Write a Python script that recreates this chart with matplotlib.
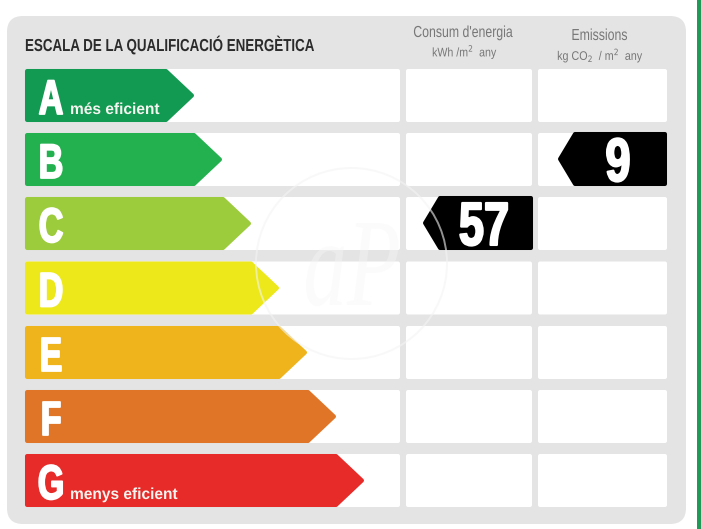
import matplotlib
matplotlib.use('Agg')
import matplotlib.pyplot as plt
from matplotlib.patches import FancyBboxPatch, Polygon, Circle
from matplotlib.patheffects import AbstractPathEffect
from matplotlib.transforms import Affine2D

# Energy rating scale, one row per grade
grades = ['A', 'B', 'C', 'D', 'E', 'F', 'G']
row_tops = [69, 133, 197, 261.5, 326, 390, 454]
arrow_ends = [194, 222, 251, 279, 307, 336, 364]
colors = ['#129a52', '#23b14f', '#9ccb3b', '#ece81a', '#efb41c', '#e07527', '#e62b29']
grade_notes = {'A': 'més eficient', 'G': 'menys eficient'}

# Readings: grade and value for the two columns
consum_grade = 'C'
consum_value = '57'
emissions_grade = 'B'
emissions_value = '9'

sans = ['Liberation Sans', 'DejaVu Sans']
row_h = 53
columns = [(25, 400), (406, 532), (538, 667)]

fig = plt.figure(figsize=(7.01, 5.29), dpi=100)
ax = fig.add_axes([0, 0, 1, 1])
ax.set_xlim(0, 701)
ax.set_ylim(529, 0)
ax.axis('off')


class Squeeze(AbstractPathEffect):
    # no condensed font is installed, so narrow the glyphs around the text anchor
    def __init__(self, sx, x0, stroke=0):
        super().__init__()
        self.sx = sx
        self.x0 = x0
        self.stroke = stroke

    def draw_path(self, renderer, gc, tpath, affine, rgbFace=None):
        squeeze = Affine2D().translate(-self.x0, 0).scale(self.sx, 1).translate(self.x0, 0)
        gc0 = renderer.new_gc()
        gc0.copy_properties(gc)
        if self.stroke:
            # thickens the letters for the heavy look of the original
            gc0.set_foreground(rgbFace)
            gc0.set_linewidth(self.stroke)
        renderer.draw_path(gc0, tpath, affine + squeeze, rgbFace)
        gc0.restore()


def label(x, y, s, sx, stroke=0, **kw):
    # axes cover the whole figure, so data x equals pixel x here
    t = ax.text(x, y, s, va='baseline', **kw)
    t.set_path_effects([Squeeze(sx, x, stroke)])
    return t


def round_box(x0, y0, x1, y1, r, color, z):
    ax.add_patch(FancyBboxPatch((x0 + r, y0 + r), x1 - x0 - 2 * r, y1 - y0 - 2 * r,
                                boxstyle=f'round,pad={r},rounding_size={r}',
                                fc=color, ec='none', zorder=z))


# background panel and the green strip on the right
round_box(7, 16, 686, 524, 16, '#e4e4e4', 1)
ax.add_patch(plt.Rectangle((697, 0), 4, 529, fc='#1f9b57', ec='none', zorder=1))

for top in row_tops:
    for x0, x1 in columns:
        round_box(x0, top, x1, top + row_h, 2, 'white', 2)

# arrows
for grade, top, end, color in zip(grades, row_tops, arrow_ends, colors):
    mid = top + row_h / 2
    pts = [(27, top + 2), (end - 28, top + 2), (end - 2, mid), (end - 28, top + row_h - 2), (27, top + row_h - 2)]
    ax.add_patch(Polygon(pts, closed=True, fc=color, ec=color, lw=2.9, joinstyle='round', zorder=3))
    note = grade_notes.get(grade)
    label(51, top + 45, grade, 0.7, stroke=1.3, family=sans, weight='bold', fontsize=35, color='white', ha='center',
          zorder=5)
    if note:
        label(70, top + 45, note, 0.97, family=sans, weight='bold', fontsize=11.5, color='#f4f4f0', ha='left', zorder=5)


# black pointers with the readings
def pointer(grade, value, x0, x1):
    top = row_tops[grades.index(grade)] - 1
    mid = top + row_h / 2 + 0.5
    pts = [(x0 + 2, mid), (x0 + 17, top + 2), (x1 - 2, top + 2), (x1 - 2, top + row_h - 1), (x0 + 17, top + row_h - 1)]
    ax.add_patch(Polygon(pts, closed=True, fc='black', ec='black', lw=2.9, joinstyle='round', zorder=3))
    label(x1 - 49, mid + 22, value, 0.74, stroke=1.5, family=sans, weight='bold', fontsize=44, color='white',
          ha='center', zorder=5)


pointer(consum_grade, consum_value, 423, 533)
pointer(emissions_grade, emissions_value, 558, 667)

# headers
label(25, 51, 'ESCALA DE LA QUALIFICACIÓ ENERGÈTICA', 0.77, family=sans, weight='bold', fontsize=12.5,
      color='#2b2b2b', ha='left')
label(463, 37, "Consum d'energia", 0.77, family=sans, fontsize=11.5, color='#777777', ha='center')
label(465, 56.5, 'kWh /m$^{2}$  any', 0.85, family=sans, fontsize=9, color='#777777', ha='center',
      math_fontfamily='dejavusans')
label(599.5, 40, 'Emissions', 0.77, family=sans, fontsize=11.5, color='#777777', ha='center')
label(600.5, 60, 'kg CO$_{2}$  / m$^{2}$  any', 0.86, family=sans, fontsize=9, color='#777777', ha='center',
      math_fontfamily='dejavusans')

# faint watermark
ax.add_patch(Circle((351.5, 263.5), 95.5, fc='none', ec='#f4f4f4', lw=1.4, alpha=0.6, zorder=6))
label(352, 305, 'aP', 0.7, family=['Liberation Serif', 'DejaVu Serif'], style='italic', fontsize=90, color='#f6f6f6',
      alpha=0.4, ha='center', zorder=6)

fig.savefig('out.png', dpi=100)
